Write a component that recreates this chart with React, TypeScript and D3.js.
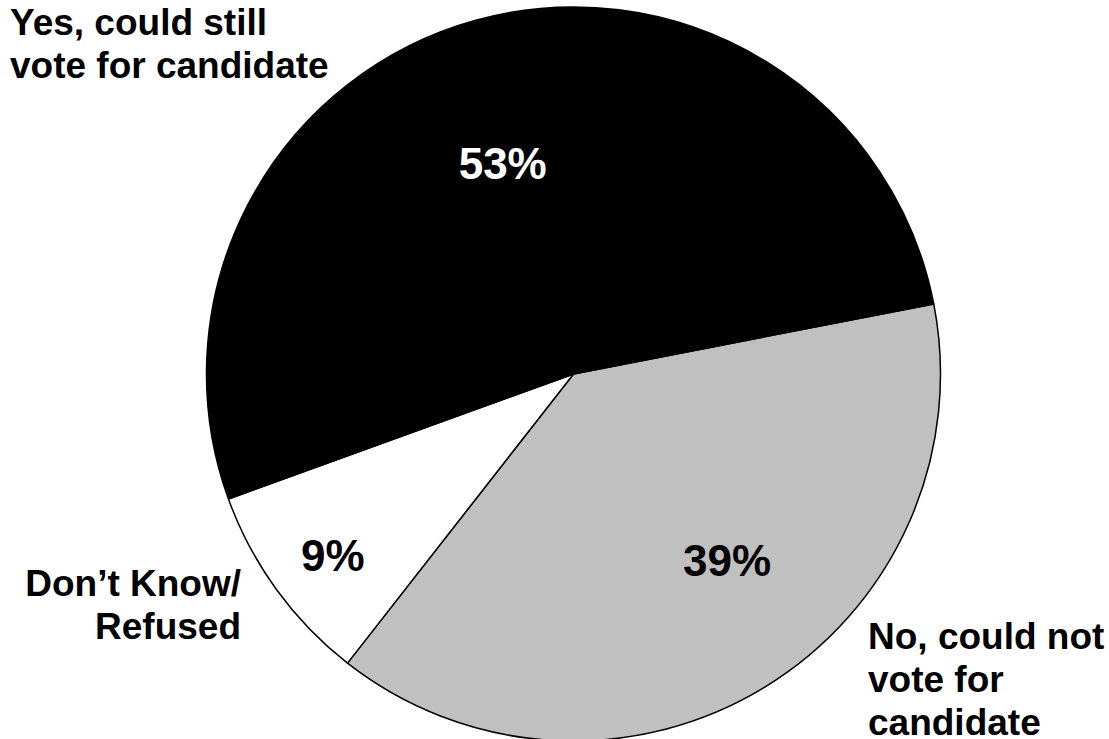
import React from "react";
import * as d3 from "d3";

const categories = ["No, could not vote for candidate", "Don't Know/Refused", "Yes, could still vote for candidate"];
const values = [39, 9, 53];
const valueLabels = ["39%", "9%", "53%"];
const fills = ["#C0C0C0", "#FFFFFF", "#000000"];
const labelColors = ["#000000", "#000000", "#FFFFFF"];

const W = 1109;
const H = 739;
const cx = 573.5;
const cy = 374;
const R = 367;

// polar placement for the value labels (angle in degrees, radius)
const valuePos = [
  { a: 140.4, r: 241 },
  { a: 233.1, r: 301 },
  { a: 341.4, r: 222 },
];

export default function App() {
  const pie = d3
    .pie<number>()
    .sort(null)
    .value((d) => d)
    .startAngle((79 * Math.PI) / 180)
    .endAngle((79 * Math.PI) / 180 + 2 * Math.PI);
  const arcs = pie(values);
  const arc = d3.arc<d3.PieArcDatum<number>>().innerRadius(0).outerRadius(R);
  const font = "'Liberation Sans', Arial, Helvetica, sans-serif";

  return (
    <svg
      width={W}
      height={H}
      style={{ position: "absolute", left: 0, top: 0, background: "#fff" }}
    >
      <g transform={`translate(${cx},${cy})`}>
        {arcs.map((a, i) => (
          <path
            key={categories[i]}
            d={arc(a) || ""}
            fill={fills[i]}
            stroke="#000"
            strokeWidth={1.5}
            strokeLinejoin="round"
          />
        ))}
        {arcs.map((a, i) => {
          const ang = (valuePos[i].a * Math.PI) / 180;
          const x = valuePos[i].r * Math.sin(ang);
          const y = -valuePos[i].r * Math.cos(ang);
          return (
            <text
              key={"v" + i}
              x={x}
              y={y}
              dy="0.36em"
              textAnchor="middle"
              fontFamily={font}
              fontWeight="bold"
              fontSize={44}
              fill={labelColors[i]}
            >
              {valueLabels[i]}
            </text>
          );
        })}
      </g>
      <g fontFamily={font} fontWeight="bold" fontSize={37} fill="#000">
        <text x={10} y={35}>
          <tspan x={10}>Yes, could still</tspan>
          <tspan x={10} dy={43}>vote for candidate</tspan>
        </text>
        <text x={241} y={596} textAnchor="end">
          <tspan x={241}>Don’t Know/</tspan>
          <tspan x={241} dy={43}>Refused</tspan>
        </text>
        <text x={868} y={649}>
          <tspan x={868}>No, could not</tspan>
          <tspan x={868} dy={43}>vote for</tspan>
          <tspan x={868} dy={43}>candidate</tspan>
        </text>
      </g>
    </svg>
  );
}
